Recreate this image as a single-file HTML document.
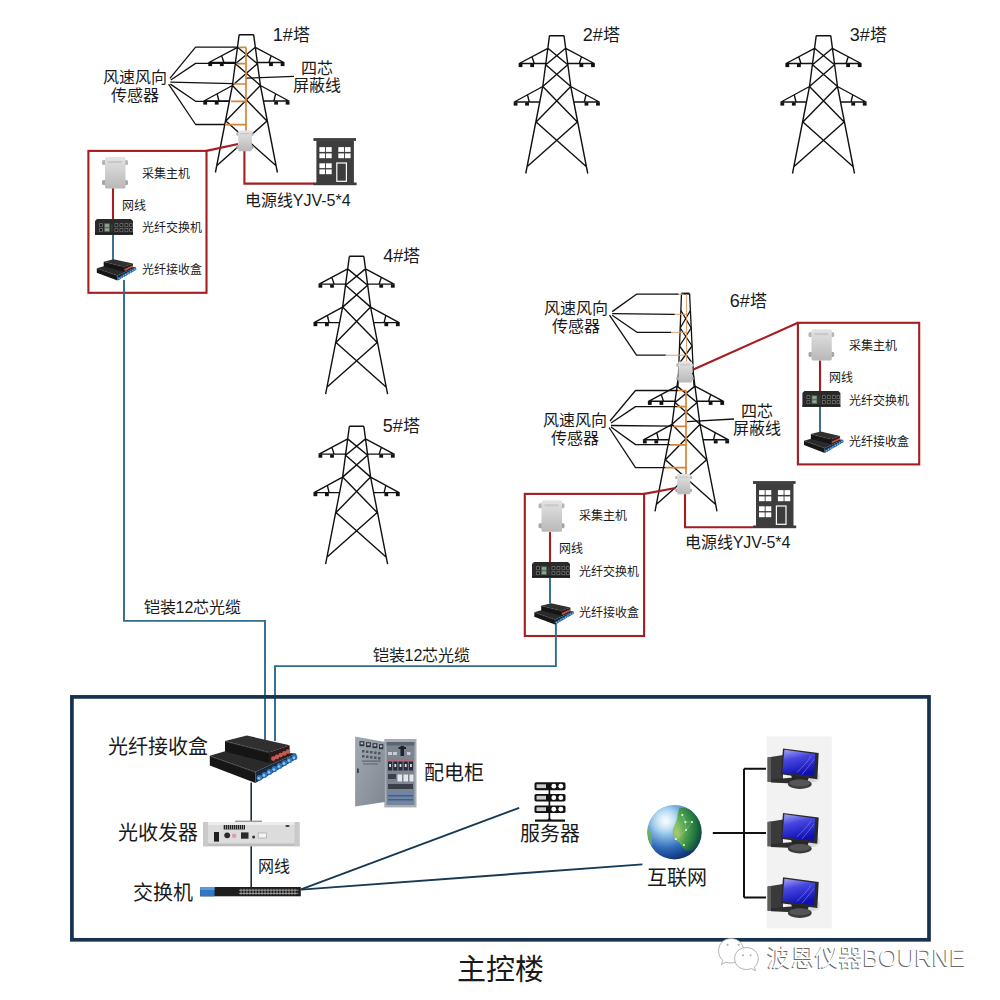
<!DOCTYPE html>
<html lang="zh-CN">
<head>
<meta charset="utf-8">
<style>
html,body{margin:0;padding:0;background:#fff;}
body{width:1000px;height:1000px;overflow:hidden;position:relative;font-family:"Liberation Sans",sans-serif;}
svg{position:absolute;left:0;top:0;}
text{font-family:"Liberation Sans",sans-serif;fill:#1a1a1a;}
</style>
</head>
<body>
<svg width="1000" height="1000" viewBox="0 0 1000 1000">
<defs>
  <g id="tower">
    <path fill="none" stroke="#111" stroke-width="1.4" stroke-linejoin="round" d="
      M-7.25,0 H7.25
      M-7.25,0 L-14,50.8 L-31,137.8
      M7.25,0 L14,50.8 L31,137.8
      M-8.9,12.6 L-37.5,27.8 H-11 M-24.75,21.1 L-22.5,27.8
      M8.9,12.6 L37.5,27.8 H11 M24.75,21.1 L22.5,27.8
      M-14,50.8 L-42.5,66.3 H-17.25 M-29.25,59.1 L-27.5,66.3
      M14,50.8 L42.5,66.3 H17.25 M29.25,59.1 L27.5,66.3
      M-8.9,12.6 L11,29 M8.9,12.6 L-11,29
      M-11,29 L14,50.8 M11,29 L-14,50.8
      M-14,50.8 L20.6,86.3 M14,50.8 L-20.6,86.3
      M-20.6,86.3 L30,131.3 M20.6,86.3 L-30,131.3"/>
    <g fill="#111">
      <rect x="-38.1" y="28.2" width="3.8" height="3.2"/>
      <rect x="-26.5" y="28.2" width="3.8" height="3.2"/>
      <rect x="22.7" y="28.2" width="3.8" height="3.2"/>
      <rect x="34.3" y="28.2" width="3.8" height="3.2"/>
      <rect x="-43.1" y="66.7" width="3.8" height="3.2"/>
      <rect x="-31.6" y="66.7" width="3.8" height="3.2"/>
      <rect x="27.8" y="66.7" width="3.8" height="3.2"/>
      <rect x="39.3" y="66.7" width="3.8" height="3.2"/>
    </g>
  </g>
  <linearGradient id="gBox" x1="0" y1="0" x2="0" y2="1">
    <stop offset="0" stop-color="#e4e4e4"/>
    <stop offset="1" stop-color="#b8b8b8"/>
  </linearGradient>
  <g id="collector">
    <!-- 26x32 nominal, origin top-left of body -->
    <rect x="-3" y="3" width="4" height="5" rx="1.5" fill="#b5b5b5"/>
    <rect x="-3" y="23" width="4" height="5" rx="1.5" fill="#a5a5a5"/>
    <rect x="19" y="3" width="4" height="5" rx="1.5" fill="#b5b5b5"/>
    <rect x="19" y="23" width="4" height="5" rx="1.5" fill="#a5a5a5"/>
    <rect x="0" y="0" width="20.5" height="31.5" rx="1.5" fill="url(#gBox)"/>
    <rect x="3" y="4" width="14" height="2" fill="#c8c8c8"/>
  </g>
  <g id="switch8">
    <path d="M2,0 H36 L38,2 V15.7 H0 V2 Z" fill="#2a2a2a"/>
    <rect x="0" y="14.3" width="38" height="1.4" fill="#1a1a1a"/>
    <rect x="4.2" y="4.3" width="3.6" height="3.6" fill="#7a7a7a"/><rect x="4.9" y="5.1" width="2.2" height="2.2" fill="#151515"/><rect x="4.2" y="9.3" width="3.6" height="3.6" fill="#7a7a7a"/><rect x="4.9" y="10.100000000000001" width="2.2" height="2.2" fill="#151515"/><rect x="19.6" y="4.3" width="3.6" height="3.6" fill="#7a7a7a"/><rect x="20.3" y="5.1" width="2.2" height="2.2" fill="#151515"/><rect x="19.6" y="9.3" width="3.6" height="3.6" fill="#7a7a7a"/><rect x="20.3" y="10.100000000000001" width="2.2" height="2.2" fill="#151515"/><rect x="24.6" y="4.3" width="3.6" height="3.6" fill="#7a7a7a"/><rect x="25.3" y="5.1" width="2.2" height="2.2" fill="#151515"/><rect x="24.6" y="9.3" width="3.6" height="3.6" fill="#7a7a7a"/><rect x="25.3" y="10.100000000000001" width="2.2" height="2.2" fill="#151515"/><rect x="29.6" y="4.3" width="3.6" height="3.6" fill="#7a7a7a"/><rect x="30.3" y="5.1" width="2.2" height="2.2" fill="#151515"/><rect x="29.6" y="9.3" width="3.6" height="3.6" fill="#7a7a7a"/><rect x="30.3" y="10.100000000000001" width="2.2" height="2.2" fill="#151515"/><rect x="34.3" y="4.3" width="3.2" height="3.6" fill="#7a7a7a"/><rect x="35.0" y="5.1" width="1.8000000000000003" height="2.2" fill="#151515"/><rect x="34.3" y="9.3" width="3.2" height="3.6" fill="#7a7a7a"/><rect x="35.0" y="10.100000000000001" width="1.8000000000000003" height="2.2" fill="#151515"/>
    <rect x="9.2" y="4.3" width="5.6" height="8.6" fill="#5a6e5e"/>
    <rect x="10" y="5.2" width="4" height="2.6" fill="#8fa890"/><rect x="10" y="9.4" width="4" height="2.6" fill="#8fa890"/>
    <rect x="16" y="5" width="1.6" height="7.5" fill="#3a3a3a"/>
  </g>
  <g id="fboxL">
    <polygon points="0.0,20.2 21.2,14.1 86.4,17.9 45.6,36.3" fill="#2a2a2a"/>
    <polygon points="0.0,20.2 45.6,36.3 45.6,47.4 0.0,29.9" fill="#161616"/>
    <polygon points="45.6,36.3 86.4,17.9 86.4,23.5 45.6,47.4" fill="#1a2a40"/>
    <polygon points="15.2,5.4 37.0,0.0 79.8,9.7 59.8,16.8" fill="#303030"/>
    <polygon points="15.2,5.4 59.8,16.8 59.8,27.5 15.2,16.1" fill="#151515"/>
    <polygon points="59.8,16.8 79.8,9.7 79.8,20.1 59.8,27.5" fill="#2a1a1c"/>
    <path d="M16.2,6.1 59.8,17.4" stroke="#555" stroke-width="0.6" fill="none"/>
    <path d="M0.8,20.9 45.6,36.9" stroke="#555" stroke-width="0.6" fill="none"/>
    <g fill="#c85a50"><circle cx="63.6" cy="23.1" r="2.3"/><circle cx="67.2" cy="21.4" r="2.3"/><circle cx="70.9" cy="19.6" r="2.3"/><circle cx="74.6" cy="17.9" r="2.3"/><circle cx="78.2" cy="16.1" r="2.3"/></g>
    <g fill="#2f78c0"><circle cx="49.7" cy="42.3" r="2.9"/><circle cx="54.7" cy="39.4" r="2.9"/><circle cx="59.7" cy="36.4" r="2.9"/><circle cx="64.7" cy="33.5" r="2.9"/><circle cx="69.7" cy="30.5" r="2.9"/><circle cx="74.7" cy="27.6" r="2.9"/><circle cx="79.7" cy="24.6" r="2.9"/><circle cx="84.7" cy="21.7" r="2.9"/></g>
    <g fill="#8fc8f0"><circle cx="49.1" cy="42.8" r="1.3"/><circle cx="54.1" cy="39.9" r="1.3"/><circle cx="59.1" cy="36.9" r="1.3"/><circle cx="64.1" cy="34.0" r="1.3"/><circle cx="69.1" cy="31.0" r="1.3"/><circle cx="74.1" cy="28.1" r="1.3"/><circle cx="79.1" cy="25.1" r="1.3"/><circle cx="84.1" cy="22.2" r="1.3"/></g>
  </g>
</defs>

<!-- ================= TOWERS ================= -->
<use href="#tower" x="556.75" y="35.7"/>
<use href="#tower" x="823.5" y="35.7"/>
<use href="#tower" x="356.6" y="256.3"/>
<use href="#tower" x="356.6" y="426.3"/>
<use href="#tower" x="246.4" y="34.7"/>


<!-- ================= TOWER 6 ================= -->
<use href="#tower" x="686" y="373.5"/>
<g fill="none" stroke="#111" stroke-width="1.3">
  <path d="M681.5,293.6 L678,386 M689.6,293.6 L694,386"/>
  <path d="M681.5,293.6 H689.6" stroke-width="2"/>
  <path d="M680.9,310.5 L691.2,328 M690.4,310.5 L680.2,328 M680.2,328 L692.1,346 M691.2,328 L679.5,346 M679.5,346 L693.0,364 M692.1,346 L678.8,364"/>
</g>
<!-- ================= CABLES (orange) ================= -->
<g fill="none" stroke="#d8833a" stroke-width="1.7">
  <path d="M246,47.3 V131 M239,47.3 H246 M236.4,63.6 H246 M233.6,84 H246 M231,101.4 H246 M225,124.6 H246"/>
  <path d="M686,390.5 V475 M678,390.5 H686 M677,406.7 H686 M674,426.3 H686 M670,444.8 H686 M665.5,467.6 H686"/>
</g>
<g fill="none" stroke="#d9a070" stroke-width="1">
  <path d="M686.6,294.2 V362"/>
  <path d="M676,294.2 H684 M674.7,314.3 H686 M671,332.3 H686 M665.7,355.2 H686"/>
</g>
<!-- ================= SENSOR WIRES (black) ================= -->
<g fill="none" stroke="#111" stroke-width="1.3" stroke-linejoin="round">
  <path d="M169.9,78.3 L195.6,47.2 H237.5 M170.8,80 L195.6,63.4 H235.6 M170.4,82.1 L232.9,83.7 M170.4,84.1 L195.6,101.3 H229.5 M168.6,84.1 L195.6,124.5 H224.8"/>
  <path d="M612.2,311.6 L636.5,294.2 H678.3 M612.2,313.6 L674.7,314.3 M612.2,315.2 L636.9,332.3 H671.1 M609.5,315.2 L636.5,355.2 H665.7"/>
  <path d="M610,421 L635.5,390.5 H678 M611,423 L635.5,406.6 H677 M611,425.5 L671,426.2 M611,427 L635.5,444.6 H670 M609,427.5 L635.5,467.6 H665.5"/>
  <!-- shielded cable leader lines -->
  <path d="M246.8,78.2 L294,76.3" stroke-width="1.3"/>
  <path d="M687,421.6 L734,419" stroke-width="1.3"/>
</g>


<!-- ================= RED BOXES & LINES ================= -->
<g fill="none" stroke="#a51d21" stroke-width="2.1">
  <rect x="88.4" y="150.9" width="118.1" height="141.9"/>
  <rect x="797.9" y="322.8" width="121.3" height="141.6"/>
  <rect x="524.8" y="493.9" width="119.3" height="142.1"/>
  <path d="M238,144 L206.5,150.9"/>
  <path d="M244.4,151 V183.6 H314"/>
  <path d="M113,188 V219.5"/>
  <path d="M693.4,369.5 L797.9,322.8"/>
  <path d="M675.6,488 L644.1,493.9"/>
  <path d="M685,494 V527.2 H753"/>
  <path d="M820,360.4 V391"/>
  <path d="M550,532.1 V562"/>
</g>
<!-- ================= BLUE FIBER LINES ================= -->
<g fill="none" stroke="#2f6c8e" stroke-width="1.9">
  <path d="M113,234.5 V260"/>
  <path d="M820,406.8 V432"/>
  <path d="M550,578 V603.5"/>
  <path d="M124,280 V620.9 H265 V740"/>
  <path d="M555.9,623.5 V666.1 H275 V741"/>
</g>
<!-- ================= BUILDINGS ================= -->
<g id="bldg">
  <rect x="313.4" y="138.1" width="42.6" height="2.8" fill="#3d3d3d"/>
  <rect x="316.4" y="140.5" width="37.5" height="42.5" fill="#3d3d3d"/>
  <rect x="313.4" y="182.5" width="43.2" height="2.7" fill="#3d3d3d"/>
  <g fill="#fff">
    <rect x="319.4" y="147.1" width="5.7" height="4.8"/><rect x="326.0" y="147.1" width="5.7" height="4.8"/>
    <rect x="319.4" y="153.4" width="5.7" height="4.8"/><rect x="326.0" y="153.4" width="5.7" height="4.8"/>
    <rect x="338.3" y="147.1" width="5.7" height="4.8"/><rect x="344.9" y="147.1" width="5.7" height="4.8"/>
    <rect x="338.3" y="153.4" width="5.7" height="4.8"/><rect x="344.9" y="153.4" width="5.7" height="4.8"/>
    <rect x="319.4" y="163.3" width="5.7" height="4.8"/><rect x="326.0" y="163.3" width="5.7" height="4.8"/>
    <rect x="319.4" y="169.4" width="5.7" height="4.8"/><rect x="326.0" y="169.4" width="5.7" height="4.8"/>
  </g>
  <rect x="336.8" y="163" width="9.6" height="18.3" fill="none" stroke="#fff" stroke-width="1.2"/>
</g>
<use href="#bldg" x="439.6" y="343"/>
<!-- ================= COLLECTORS / SWITCHES / FIBER BOXES ================= -->
<use href="#collector" transform="translate(238.3,130.4) scale(0.66)"/>
<use href="#collector" transform="translate(105,157)"/>
<use href="#collector" transform="translate(811.5,329.2) scale(0.99)"/>
<use href="#collector" transform="translate(541.5,500.3) scale(1.0)"/>
<use href="#collector" transform="translate(678.3,361.4) scale(0.67)"/>
<use href="#collector" transform="translate(677.2,474) scale(0.64)"/>
<use href="#switch8" transform="translate(95,219)"/>
<use href="#switch8" transform="translate(802.4,391)"/>
<use href="#switch8" transform="translate(532,562)"/>
<use href="#fboxL" transform="translate(96.8,259.2) scale(0.452)"/>
<use href="#fboxL" transform="translate(804,431.6) scale(0.452)"/>
<use href="#fboxL" transform="translate(534.3,603.2) scale(0.452)"/>


<!-- ================= MAIN BUILDING ================= -->
<rect x="71.9" y="696.9" width="857.1" height="242.9" fill="none" stroke="#16324f" stroke-width="3.7"/>
<use href="#fboxL" x="209.8" y="735.5"/>
<g fill="none" stroke="#1c2c3c" stroke-width="1.6">
  <path d="M251.2,782.5 V822"/>
  <path d="M251.2,846 V887.5"/>
</g>
<!-- optical transceiver -->
<g>
  <rect x="235" y="820.6" width="27" height="2" fill="#9a9a9a"/>
  <rect x="203" y="822" width="96.6" height="24.2" rx="1.5" fill="#dcdcdc"/>
  <rect x="203" y="822" width="96.6" height="3" fill="#ececec"/>
  <rect x="203" y="843.5" width="96.6" height="2.7" fill="#bdbdbd"/>
  <rect x="203" y="822" width="5" height="24.2" fill="#c9c9c9"/>
  <rect x="294.6" y="822" width="5" height="24.2" fill="#c9c9c9"/>
  <g fill="#222"><rect x="223.7" y="825" width="21.3" height="4.5"/></g>
  <g stroke="#ddd" stroke-width="0.6"><path d="M225.5,825 V829.5 M227.5,825 V829.5 M229.5,825 V829.5 M231.5,825 V829.5 M233.5,825 V829.5 M235.5,825 V829.5 M237.5,825 V829.5 M239.5,825 V829.5 M241.5,825 V829.5 M243.5,825 V829.5"/></g>
  <rect x="214" y="832" width="5" height="9.6" fill="#1e1e1e"/>
  <circle cx="227.2" cy="835.3" r="2.9" fill="#2a2a2a"/>
  <circle cx="234.2" cy="835.8" r="2.3" fill="#d9a0b0"/>
  <rect x="241" y="832.4" width="7.5" height="6.3" fill="#2a2a2a"/>
  <circle cx="253.6" cy="837" r="1.5" fill="#333"/>
  <rect x="258.2" y="833" width="8.1" height="5" fill="#f4f4f4" stroke="#999" stroke-width="0.6"/>
  <ellipse cx="287.5" cy="826" rx="2.2" ry="0.9" fill="#333"/>
</g>
<!-- main switch -->
<g>
  <rect x="200.2" y="887" width="100.6" height="9.3" fill="#1e1e1e"/>
  <rect x="200.2" y="887" width="14.3" height="9.3" fill="#2f78c8"/>
  <rect x="200.2" y="887" width="14.3" height="3" fill="#5a9ae0"/>
  <g fill="none" stroke="#d8d8d8" stroke-width="0.6">
    <path d="M239,890.2 H298.5 M239,893.4 H298.5"/>
    <path d="M241,888.8 V894.8 M244,888.8 V894.8 M247,888.8 V894.8 M250,888.8 V894.8 M253,888.8 V894.8 M256,888.8 V894.8 M259,888.8 V894.8 M262,888.8 V894.8 M265,888.8 V894.8 M268,888.8 V894.8 M271,888.8 V894.8 M274,888.8 V894.8 M277,888.8 V894.8 M280,888.8 V894.8 M283,888.8 V894.8 M286,888.8 V894.8 M289,888.8 V894.8 M292,888.8 V894.8 M295,888.8 V894.8"/>
  </g>
</g>
<g fill="none" stroke="#163a55" stroke-width="1.9">
  <path d="M301,889.4 L519.2,807.9"/>
  <path d="M301,889.6 L642.4,864.4"/>
</g>
<!-- distribution cabinet -->
<defs>
  <linearGradient id="gDoor" x1="0" y1="0" x2="1" y2="1">
    <stop offset="0" stop-color="#a2a9b1"/>
    <stop offset="1" stop-color="#7f8791"/>
  </linearGradient>
</defs>
<g>
  <rect x="384.3" y="739" width="32.2" height="68.4" fill="#a6adb5"/>
  <rect x="386.6" y="742" width="27.8" height="63" fill="#7b8592"/>
  <rect x="386.6" y="742" width="27.8" height="3.5" fill="#5c6572"/>
  <rect x="400.5" y="746" width="3.5" height="10" fill="#1e2228"/>
  <rect x="398.5" y="747" width="7.5" height="2" fill="#1e2228"/>
  <g fill="#c9ccd2"><rect x="388" y="752" width="4" height="3"/><rect x="393" y="752" width="4" height="3"/><rect x="407" y="752" width="3.5" height="3"/></g>
  <g fill="#b06a78"><rect x="388" y="759" width="24.5" height="2.2"/></g>
  <g fill="#262a34"><rect x="388" y="761.5" width="4.2" height="9"/><rect x="393.2" y="761.5" width="4.2" height="9"/><rect x="398.4" y="761.5" width="4.2" height="9"/><rect x="403.6" y="761.5" width="4.2" height="9"/><rect x="408.8" y="761.5" width="4.2" height="9"/></g>
  <g fill="#dfe3e8"><rect x="389.2" y="764" width="1.8" height="3"/><rect x="394.4" y="764" width="1.8" height="3"/><rect x="399.6" y="764" width="1.8" height="3"/><rect x="404.8" y="764" width="1.8" height="3"/><rect x="410" y="764" width="1.8" height="3"/></g>
  <g fill="#3a404c"><rect x="388" y="774" width="8" height="5"/></g>
  <g fill="#e6e8ea"><rect x="397.5" y="774.5" width="4.5" height="7"/><rect x="403.5" y="774.5" width="4.5" height="7"/><rect x="409.5" y="774.5" width="4" height="7"/></g>
  <g fill="#3a3f4a"><rect x="388" y="784" width="25" height="5"/></g>
  <rect x="387.5" y="792" width="26" height="11" fill="#6d86a8"/>
  <g fill="#4d5c78"><rect x="388" y="795" width="25" height="1.5"/><rect x="388" y="799" width="25" height="1.5"/></g>
  <polygon points="355.1,736.4 384.9,741.9 384.9,802 355.1,806.6" fill="url(#gDoor)"/>
  <g fill="#2e343e"><rect x="359.5" y="741.2" width="4.8" height="5"/><rect x="366" y="742.2" width="4.8" height="5"/><rect x="372.5" y="743.2" width="4.8" height="5"/><rect x="379" y="744.2" width="4.3" height="5"/></g>
  <g fill="#b8bcc4"><rect x="360.6" y="742.3" width="2.6" height="2"/><rect x="367.1" y="743.3" width="2.6" height="2"/><rect x="373.6" y="744.3" width="2.6" height="2"/><rect x="380" y="745.3" width="2.3" height="2"/></g>
  <g fill="#4f5764"><rect x="362" y="750" width="2.5" height="2.5"/><rect x="366" y="750.5" width="2.5" height="2.5"/><rect x="370" y="751" width="2.5" height="2.5"/><rect x="374" y="751.5" width="2.5" height="2.5"/><rect x="378" y="752" width="2.5" height="2.5"/>
    <rect x="362" y="755" width="2.5" height="2.5"/><rect x="366" y="755.5" width="2.5" height="2.5"/><rect x="370" y="756" width="2.5" height="2.5"/><rect x="374" y="756.5" width="2.5" height="2.5"/><rect x="378" y="757" width="2.5" height="2.5"/></g>
  <g fill="#5d6572"><rect x="362" y="760.5" width="19" height="1.2"/><rect x="363" y="763.5" width="15" height="1"/></g>
  <rect x="357" y="768.5" width="1.8" height="4.5" fill="#3a3e44"/>
</g>
<!-- server -->
<g>
  <rect x="534.5" y="782.3" width="31" height="7.9" rx="1.6" fill="#111"/>
  <rect x="534.5" y="794" width="31" height="7.4" rx="1.6" fill="#111"/>
  <rect x="534.5" y="805.5" width="31" height="7.4" rx="1.6" fill="#111"/>
  <g fill="#ccc"><rect x="536.5" y="784.3" width="9.5" height="3.8"/><rect x="536.5" y="795.8" width="9.5" height="3.8"/><rect x="536.5" y="807.3" width="9.5" height="3.8"/></g>
  <g fill="#fff"><circle cx="553.8" cy="786.2" r="2.4"/><circle cx="560.8" cy="786.2" r="2.4"/><circle cx="553.8" cy="797.7" r="2.4"/><circle cx="560.8" cy="797.7" r="2.4"/><circle cx="553.8" cy="809.2" r="2.4"/><circle cx="560.8" cy="809.2" r="2.4"/></g>
  <path d="M549.4,790 V820.5" stroke="#111" stroke-width="1.7" fill="none"/><path d="M535,820.6 H565" stroke="#111" stroke-width="2.2" fill="none"/><path d="M547,820.6 L549.4,817.5 L551.8,820.6 Z" fill="#111"/>
</g>
<!-- globe -->
<defs>
  <radialGradient id="gGlobe" cx="0.35" cy="0.3" r="0.75">
    <stop offset="0" stop-color="#f0f8fc"/>
    <stop offset="0.3" stop-color="#8cc4e8"/>
    <stop offset="0.65" stop-color="#2f6ec0"/>
    <stop offset="1" stop-color="#123c88"/>
  </radialGradient>
  <radialGradient id="gLand" cx="0.15" cy="0.6" r="0.9">
    <stop offset="0" stop-color="#b0cc58"/>
    <stop offset="0.35" stop-color="#4ca636"/>
    <stop offset="0.75" stop-color="#1e7e2a"/>
    <stop offset="1" stop-color="#0e5a2a"/>
  </radialGradient>
  <radialGradient id="gShade" cx="0.3" cy="0.25" r="0.85">
    <stop offset="0" stop-color="#fff" stop-opacity="0.55"/>
    <stop offset="0.35" stop-color="#fff" stop-opacity="0.1"/>
    <stop offset="0.75" stop-color="#0a2a70" stop-opacity="0.1"/>
    <stop offset="1" stop-color="#0a2050" stop-opacity="0.55"/>
  </radialGradient>
  <clipPath id="cGlobe"><circle cx="674.5" cy="832.2" r="27"/></clipPath>
</defs>
<circle cx="674.5" cy="832.2" r="27.2" fill="url(#gGlobe)"/>
<g clip-path="url(#cGlobe)">
  <path d="M679.2,808.5 C684,807.5 690,808 694,811 C699,815 701,822 701.5,830 C701.5,838 699,845 694.6,849 C691,851 688,851 685.5,850.4 C682,847 680,844 679.2,842 C676,840 674,838 673.6,836.4 C672.5,833 672.5,831 672.9,829.4 C674,826 675.5,823 676.4,821 C677,818 677.5,816 677.8,814 Z" fill="url(#gLand)" opacity="0.9"/>
  <g stroke="#d8f8c8" stroke-width="0.35" fill="none" opacity="0.8"><path d="M682.3,815 L685.3,822 L692,822 M685.3,822 L686,830 L675.8,839 L684,845 M686,830 L692,822"/></g>
  <path d="M646,826 C650,828 653,836 652,846 L646,842 Z" fill="#6ab040" opacity="0.8"/>
  <circle cx="674.5" cy="832.2" r="27" fill="url(#gShade)"/>
  <g fill="#e0ffd8"><circle cx="682.3" cy="815" r="1.1"/><circle cx="685.3" cy="822" r="1.1"/><circle cx="692" cy="822" r="1"/><circle cx="686" cy="830" r="1"/><circle cx="675.8" cy="839" r="1.1"/><circle cx="684" cy="845" r="1"/></g>
</g>
<g fill="none" stroke="#111" stroke-width="2">
  <path d="M712.8,833 H744 M744,768.8 V897.4 M744,768.8 H766 M744,833 H766 M744,897.4 H766"/>
</g>
<!-- computers -->
<rect x="766.6" y="736.4" width="65.2" height="192" fill="#f2f2f2"/>
<defs>
  <linearGradient id="gScr" x1="0" y1="0" x2="0.3" y2="1">
    <stop offset="0" stop-color="#a8a8f4"/>
    <stop offset="0.4" stop-color="#4646e0"/>
    <stop offset="1" stop-color="#1010b0"/>
  </linearGradient>
  <g id="pc">
    <ellipse cx="44" cy="22" rx="6" ry="12" fill="#d8d8d8" opacity="0.8"/>
    <polygon points="0.6,9.1 16,6.6 16,33.4 0.6,33.4" fill="#3a3a3a"/>
    <polygon points="0.6,9.1 4,8.6 4,33.4 0.6,33.4" fill="#5e5e5e"/>
    <polygon points="4,31 26,29 26,35 4,34" fill="#2e2e2e"/>
    <ellipse cx="46" cy="28" rx="7" ry="6" fill="#d4d4d4" opacity="0.7"/>
    <polygon points="24,26 42,28.5 40,34 26,34" fill="#262626"/>
    <ellipse cx="32.8" cy="35.7" rx="11.9" ry="4.9" fill="#3c3c3c"/>
    <ellipse cx="32.8" cy="34.6" rx="10.5" ry="3.4" fill="#555"/>
    <polygon points="16,0 51.7,4.6 50.3,30.8 13.9,25.9" fill="#2a2a2a"/>
    <polygon points="17.4,1.4 48.2,5.6 47.1,28 15.3,24.1" fill="url(#gScr)"/>
    <path d="M30,24 C36,18 40,14 44,8 M35,26 C40,20 44,15 47,11" stroke="#8f8ff5" stroke-width="0.8" fill="none" opacity="0.7"/>
  </g>
</defs>
<use href="#pc" x="767" y="748.4"/>
<use href="#pc" x="767" y="812.9"/>
<use href="#pc" x="767" y="877.3"/>

<g id="texts">
<text id="t1" textLength="37.03" lengthAdjust="spacingAndGlyphs" x="272.8" y="41.2" font-size="18">1#<tspan font-size="17">塔</tspan></text>
<text id="t2" textLength="37.03" lengthAdjust="spacingAndGlyphs" x="582.8" y="41.4" font-size="18">2#<tspan font-size="17">塔</tspan></text>
<text id="t3" textLength="37.03" lengthAdjust="spacingAndGlyphs" x="849.8" y="41.4" font-size="18">3#<tspan font-size="17">塔</tspan></text>
<text id="t4" textLength="37.03" lengthAdjust="spacingAndGlyphs" x="383.2" y="262.3" font-size="18">4#<tspan font-size="17">塔</tspan></text>
<text id="t5" textLength="37.03" lengthAdjust="spacingAndGlyphs" x="382.7" y="432.3" font-size="18">5#<tspan font-size="17">塔</tspan></text>
<text id="t6" textLength="37.03" lengthAdjust="spacingAndGlyphs" x="729.8" y="307.0" font-size="18">6#<tspan font-size="17">塔</tspan></text>
<text id="s1a" textLength="64.00" lengthAdjust="spacingAndGlyphs" x="102.8" y="82.8" font-size="16">风速风向</text>
<text id="s1b" textLength="48.00" lengthAdjust="spacingAndGlyphs" x="110.6" y="101.0" font-size="16">传感器</text>
<text id="p1a" textLength="32.00" lengthAdjust="spacingAndGlyphs" x="301.0" y="73.9" font-size="16">四芯</text>
<text id="p1b" textLength="48.00" lengthAdjust="spacingAndGlyphs" x="293.2" y="91.4" font-size="16">屏蔽线</text>
<text id="e1" textLength="105.81" lengthAdjust="spacingAndGlyphs" x="244.8" y="205.7" font-size="16">电源线YJV-5*4</text>
<text id="la" textLength="48.00" lengthAdjust="spacingAndGlyphs" x="141.8" y="177.6" font-size="12">采集主机</text>
<text id="lb" textLength="24.00" lengthAdjust="spacingAndGlyphs" x="122.2" y="209.7" font-size="12">网线</text>
<text id="lc" textLength="60.00" lengthAdjust="spacingAndGlyphs" x="141.9" y="232.2" font-size="12">光纤交换机</text>
<text id="ld" textLength="60.00" lengthAdjust="spacingAndGlyphs" x="142.1" y="273.6" font-size="12">光纤接收盒</text>
<text id="s6a" textLength="64.00" lengthAdjust="spacingAndGlyphs" x="543.6" y="314.0" font-size="16">风速风向</text>
<text id="s6b" textLength="48.00" lengthAdjust="spacingAndGlyphs" x="552.0" y="332.0" font-size="16">传感器</text>
<text id="s6c" textLength="64.00" lengthAdjust="spacingAndGlyphs" x="543.0" y="426.0" font-size="16">风速风向</text>
<text id="s6d" textLength="48.00" lengthAdjust="spacingAndGlyphs" x="551.0" y="444.0" font-size="16">传感器</text>
<text id="p6a" textLength="32.00" lengthAdjust="spacingAndGlyphs" x="740.8" y="417.1" font-size="16">四芯</text>
<text id="p6b" textLength="48.00" lengthAdjust="spacingAndGlyphs" x="732.8" y="434.2" font-size="16">屏蔽线</text>
<text id="e6" textLength="105.81" lengthAdjust="spacingAndGlyphs" x="684.7" y="548.4" font-size="16">电源线YJV-5*4</text>
<text id="ra" textLength="48.00" lengthAdjust="spacingAndGlyphs" x="848.7" y="350.0" font-size="12">采集主机</text>
<text id="rb" textLength="24.00" lengthAdjust="spacingAndGlyphs" x="829.2" y="381.9" font-size="12">网线</text>
<text id="rc" textLength="60.00" lengthAdjust="spacingAndGlyphs" x="848.7" y="404.7" font-size="12">光纤交换机</text>
<text id="rd" textLength="60.00" lengthAdjust="spacingAndGlyphs" x="849.2" y="446.3" font-size="12">光纤接收盒</text>
<text id="wa" textLength="48.00" lengthAdjust="spacingAndGlyphs" x="578.6" y="520.4" font-size="12">采集主机</text>
<text id="wb" textLength="24.00" lengthAdjust="spacingAndGlyphs" x="559.2" y="552.8" font-size="12">网线</text>
<text id="wc" textLength="60.00" lengthAdjust="spacingAndGlyphs" x="578.5" y="575.8" font-size="12">光纤交换机</text>
<text id="wd" textLength="60.00" lengthAdjust="spacingAndGlyphs" x="579.0" y="616.8" font-size="12">光纤接收盒</text>
<text id="k1" textLength="97.80" lengthAdjust="spacingAndGlyphs" x="143.5" y="613.0" font-size="16">铠装12芯光缆</text>
<text id="k2" textLength="97.80" lengthAdjust="spacingAndGlyphs" x="372.6" y="660.8" font-size="16">铠装12芯光缆</text>
<text id="m1" textLength="100.00" lengthAdjust="spacingAndGlyphs" x="107.6" y="753.6" font-size="20">光纤接收盒</text>
<text id="m2" textLength="80.00" lengthAdjust="spacingAndGlyphs" x="117.6" y="840.2" font-size="20">光收发器</text>
<text id="m3" textLength="32.00" lengthAdjust="spacingAndGlyphs" x="258.4" y="871.6" font-size="16">网线</text>
<text id="m4" textLength="60.00" lengthAdjust="spacingAndGlyphs" x="133.0" y="899.5" font-size="20">交换机</text>
<text id="m5" textLength="60.00" lengthAdjust="spacingAndGlyphs" x="424.3" y="779.8" font-size="20">配电柜</text>
<text id="m6" textLength="60.00" lengthAdjust="spacingAndGlyphs" x="520.4" y="840.7" font-size="20">服务器</text>
<text id="m7" textLength="60.00" lengthAdjust="spacingAndGlyphs" x="646.9" y="884.9" font-size="20">互联网</text>
<text id="zk" textLength="87.00" lengthAdjust="spacingAndGlyphs" x="456.8" y="979.7" font-size="29">主控楼</text>
</g>

<!-- ================= WATERMARK ================= -->
<g>
  <path d="M731,938.6 C738,938.6 743.6,943.4 743.6,950.8 C743.6,958 738,963 731,963 C729,963 727.3,962.7 725.8,962.2 L721.5,964.5 L722.8,960.3 C720,958 718.6,954.8 718.6,950.8 C718.6,943.4 724,938.6 731,938.6 Z" fill="#fff" stroke="#a0a0a0" stroke-width="0.8"/>
  <path d="M746.4,947.6 C752.8,947.6 758.3,952 758.3,958.6 C758.3,962.2 756.8,965 754.4,967 L755.4,970.8 L751.6,968.6 C750,969.2 748.2,969.5 746.4,969.5 C740,969.5 734.6,965 734.6,958.6 C734.6,952 740,947.6 746.4,947.6 Z" fill="#fff" stroke="#a0a0a0" stroke-width="0.8"/>
  <g fill="#b0b0b0"><circle cx="727.5" cy="944.8" r="1.1"/><circle cx="738.7" cy="944.8" r="1.1"/><circle cx="743" cy="955.2" r="1"/><circle cx="750.6" cy="955.2" r="1"/></g>
  <text x="766" y="966.6" font-size="24" textLength="198.69" lengthAdjust="spacingAndGlyphs" fill="#6a6a6a" style="fill:#6a6a6a">波恩仪器BOURNE</text>
  <text x="767" y="965.7" font-size="24" textLength="198.69" lengthAdjust="spacingAndGlyphs" fill="#fff" style="fill:#fff">波恩仪器BOURNE</text>
</g>

</svg>
</body>
</html>
